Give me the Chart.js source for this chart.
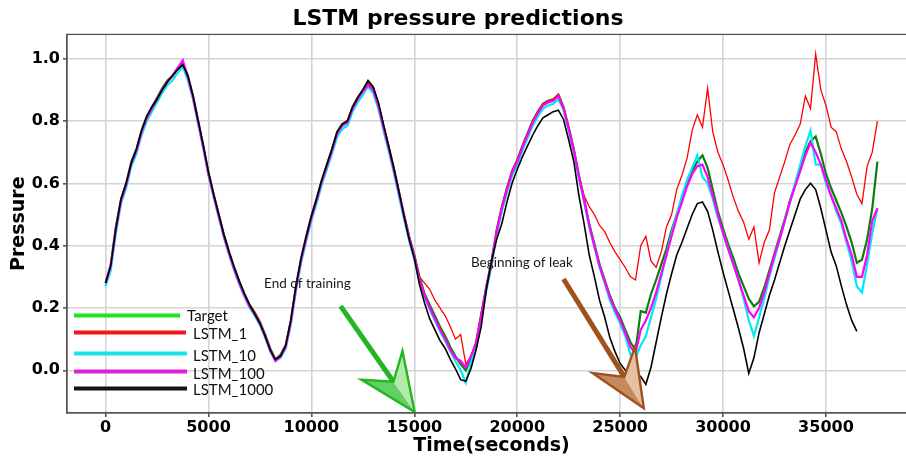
<!DOCTYPE html>
<html>
<head>
<meta charset="utf-8">
<script src="https://cdn.jsdelivr.net/npm/chart.js@4.4.1/dist/chart.umd.min.js"></script>
<style>
  html, body { margin: 0; padding: 0; background: #fff; overflow: hidden; }
  #wrap { width: 983px; height: 459px; }
</style>
</head>
<body>
<div id="wrap"><canvas id="chart" width="983" height="459"></canvas></div>
<script>
// Sample times (seconds)
const time = [
  0, 250, 500, 750, 1000, 1250, 1500, 1750, 2000, 2250,
  2500, 2750, 3000, 3250, 3500, 3750, 4000, 4250, 4500, 4750,
  5000, 5250, 5500, 5750, 6000, 6250, 6500, 6750, 7000, 7250,
  7500, 7750, 8000, 8250, 8500, 8750, 9000, 9250, 9500, 9750,
  10000, 10250, 10500, 10750, 11000, 11250, 11500, 11750, 12000, 12250,
  12500, 12750, 13000, 13250, 13500, 13750, 14000, 14250, 14500, 14750,
  15000, 15250, 15500, 15750, 16000, 16250, 16500, 16750, 17000, 17250,
  17500, 17750, 18000, 18250, 18500, 18750, 19000, 19250, 19500, 19750,
  20000, 20250, 20500, 20750, 21000, 21250, 21500, 21750, 22000, 22250,
  22500, 22750, 23000, 23250, 23500, 23750, 24000, 24250, 24500, 24750,
  25000, 25250, 25500, 25750, 26000, 26250, 26500, 26750, 27000, 27250,
  27500, 27750, 28000, 28250, 28500, 28750, 29000, 29250, 29500, 29750,
  30000, 30250, 30500, 30750, 31000, 31250, 31500, 31750, 32000, 32250,
  32500, 32750, 33000, 33250, 33500, 33750, 34000, 34250, 34500, 34750,
  35000, 35250, 35500, 35750, 36000, 36250, 36500, 36750, 37000, 37250,
  37500
];

// Measured pressure
const target = [
  0.28, 0.34, 0.46, 0.55, 0.60, 0.67, 0.71, 0.77, 0.815, 0.845,
  0.875, 0.905, 0.93, 0.945, 0.97, 0.985, 0.945, 0.88, 0.80, 0.72,
  0.635, 0.565, 0.50, 0.435, 0.38, 0.33, 0.285, 0.245, 0.21, 0.185,
  0.155, 0.115, 0.07, 0.035, 0.05, 0.08, 0.16, 0.27, 0.36, 0.43,
  0.495, 0.55, 0.61, 0.66, 0.71, 0.765, 0.79, 0.80, 0.845, 0.875,
  0.90, 0.925, 0.905, 0.855, 0.785, 0.72, 0.65, 0.575, 0.50, 0.43,
  0.37, 0.30, 0.245, 0.21, 0.175, 0.14, 0.11, 0.075, 0.045, 0.02,
  0.0, 0.04, 0.09, 0.18, 0.27, 0.35, 0.45, 0.525, 0.585, 0.64,
  0.675, 0.72, 0.76, 0.80, 0.83, 0.855, 0.865, 0.87, 0.885, 0.845,
  0.78, 0.71, 0.625, 0.55, 0.47, 0.405, 0.34, 0.29, 0.24, 0.20,
  0.17, 0.13, 0.09, 0.065, 0.19, 0.185, 0.245, 0.29, 0.34, 0.39,
  0.45, 0.50, 0.55, 0.60, 0.64, 0.67, 0.69, 0.65, 0.58, 0.51,
  0.455, 0.405, 0.36, 0.31, 0.27, 0.23, 0.205, 0.22, 0.265, 0.32,
  0.375, 0.43, 0.485, 0.545, 0.595, 0.645, 0.70, 0.735, 0.75, 0.695,
  0.63, 0.585, 0.545, 0.505, 0.46, 0.41, 0.345, 0.355, 0.42, 0.52,
  0.67
];

// Predictions, one network per series
const lstm1 = [
  0.28, 0.34, 0.455, 0.55, 0.60, 0.665, 0.71, 0.765, 0.81, 0.845,
  0.87, 0.90, 0.925, 0.945, 0.965, 0.98, 0.94, 0.88, 0.80, 0.72,
  0.635, 0.565, 0.50, 0.435, 0.38, 0.33, 0.285, 0.245, 0.21, 0.185,
  0.155, 0.115, 0.07, 0.035, 0.05, 0.08, 0.16, 0.27, 0.36, 0.43,
  0.495, 0.55, 0.61, 0.66, 0.71, 0.765, 0.79, 0.80, 0.845, 0.875,
  0.90, 0.92, 0.905, 0.855, 0.785, 0.72, 0.65, 0.575, 0.50, 0.43,
  0.37, 0.30, 0.28, 0.26, 0.225, 0.20, 0.175, 0.14, 0.10, 0.115,
  0.02, 0.045, 0.09, 0.18, 0.27, 0.35, 0.45, 0.525, 0.585, 0.64,
  0.675, 0.72, 0.76, 0.80, 0.83, 0.855, 0.865, 0.87, 0.885, 0.845,
  0.78, 0.71, 0.625, 0.56, 0.525, 0.50, 0.465, 0.445, 0.41, 0.38,
  0.355, 0.33, 0.30, 0.29, 0.40, 0.43, 0.35, 0.33, 0.38, 0.46,
  0.50, 0.58, 0.625, 0.68, 0.77, 0.82, 0.78, 0.905, 0.765, 0.70,
  0.66, 0.61, 0.555, 0.51, 0.475, 0.42, 0.46, 0.345, 0.41, 0.45,
  0.57, 0.62, 0.67, 0.725, 0.755, 0.79, 0.88, 0.84, 1.015, 0.90,
  0.85, 0.78, 0.765, 0.71, 0.67, 0.62, 0.565, 0.535, 0.655, 0.70,
  0.80
];

const lstm10 = [
  0.27, 0.32, 0.44, 0.535, 0.585, 0.655, 0.695, 0.755, 0.80, 0.83,
  0.86, 0.89, 0.915, 0.93, 0.955, 0.975, 0.93, 0.87, 0.79, 0.71,
  0.625, 0.555, 0.49, 0.425, 0.37, 0.32, 0.275, 0.235, 0.20, 0.175,
  0.145, 0.105, 0.06, 0.03, 0.04, 0.07, 0.145, 0.255, 0.345, 0.415,
  0.48, 0.535, 0.595, 0.645, 0.695, 0.75, 0.775, 0.785, 0.83, 0.86,
  0.885, 0.91, 0.89, 0.84, 0.77, 0.705, 0.635, 0.56, 0.485, 0.415,
  0.355, 0.285, 0.235, 0.195, 0.16, 0.125, 0.095, 0.06, 0.03, 0.0,
  -0.04, 0.025, 0.075, 0.165, 0.255, 0.335, 0.435, 0.51, 0.57, 0.625,
  0.66, 0.705, 0.745, 0.785, 0.815, 0.84, 0.85, 0.855, 0.87, 0.835,
  0.77, 0.70, 0.615, 0.54, 0.46, 0.395, 0.33, 0.28, 0.225, 0.185,
  0.15, 0.11, 0.05, 0.04, 0.08, 0.11, 0.17, 0.23, 0.30, 0.37,
  0.44, 0.50, 0.56, 0.61, 0.65, 0.69, 0.62, 0.60, 0.55, 0.49,
  0.44, 0.39, 0.34, 0.29, 0.23, 0.16, 0.11, 0.17, 0.23, 0.30,
  0.36, 0.42, 0.48, 0.54, 0.60, 0.66, 0.72, 0.77, 0.66, 0.66,
  0.60, 0.56, 0.51, 0.47, 0.41, 0.35, 0.27, 0.25, 0.34, 0.44,
  0.52
];

const lstm100 = [
  0.28, 0.335, 0.455, 0.545, 0.595, 0.665, 0.705, 0.765, 0.81, 0.84,
  0.87, 0.90, 0.925, 0.945, 0.97, 0.995, 0.94, 0.875, 0.795, 0.715,
  0.63, 0.56, 0.495, 0.43, 0.375, 0.325, 0.28, 0.24, 0.205, 0.18,
  0.15, 0.11, 0.065, 0.03, 0.045, 0.075, 0.155, 0.265, 0.355, 0.425,
  0.49, 0.545, 0.605, 0.655, 0.705, 0.76, 0.785, 0.795, 0.84, 0.87,
  0.895, 0.915, 0.90, 0.85, 0.78, 0.715, 0.645, 0.57, 0.495, 0.425,
  0.365, 0.29, 0.24, 0.20, 0.165, 0.13, 0.10, 0.065, 0.04, 0.03,
  0.01, 0.045, 0.085, 0.175, 0.265, 0.345, 0.445, 0.52, 0.58, 0.635,
  0.67, 0.715, 0.755, 0.795, 0.825, 0.85, 0.86, 0.865, 0.88, 0.84,
  0.775, 0.705, 0.62, 0.545, 0.465, 0.40, 0.335, 0.285, 0.235, 0.195,
  0.16, 0.12, 0.075, 0.055, 0.13, 0.16, 0.20, 0.25, 0.31, 0.37,
  0.43, 0.49, 0.54, 0.59, 0.63, 0.655, 0.66, 0.62, 0.56, 0.50,
  0.44, 0.39, 0.34, 0.29, 0.24, 0.19, 0.17, 0.20, 0.25, 0.31,
  0.37, 0.42, 0.48, 0.54, 0.59, 0.64, 0.69, 0.73, 0.70, 0.66,
  0.61, 0.56, 0.52, 0.48, 0.42, 0.37, 0.30, 0.30, 0.37, 0.48,
  0.52
];

const lstm1000 = [
  0.28, 0.335, 0.455, 0.55, 0.60, 0.665, 0.71, 0.77, 0.815, 0.845,
  0.87, 0.90, 0.925, 0.945, 0.965, 0.98, 0.945, 0.88, 0.80, 0.72,
  0.635, 0.565, 0.50, 0.435, 0.38, 0.33, 0.285, 0.245, 0.21, 0.18,
  0.15, 0.11, 0.065, 0.035, 0.045, 0.08, 0.16, 0.27, 0.36, 0.43,
  0.495, 0.55, 0.61, 0.66, 0.71, 0.765, 0.79, 0.80, 0.845, 0.875,
  0.90, 0.93, 0.91, 0.86, 0.79, 0.72, 0.65, 0.575, 0.495, 0.42,
  0.36, 0.275, 0.215, 0.165, 0.13, 0.095, 0.07, 0.035, 0.005, -0.03,
  -0.035, 0.005, 0.065, 0.14, 0.26, 0.35, 0.42, 0.47, 0.54, 0.60,
  0.645, 0.685, 0.72, 0.755, 0.785, 0.81, 0.82, 0.83, 0.835, 0.805,
  0.74, 0.67, 0.56, 0.47, 0.37, 0.30, 0.225, 0.17, 0.105, 0.06,
  0.022, 0.0, 0.0, -0.01, -0.02, -0.045, 0.01, 0.09, 0.17, 0.245,
  0.31, 0.37, 0.41, 0.455, 0.50, 0.535, 0.54, 0.51, 0.45, 0.38,
  0.315, 0.255, 0.195, 0.135, 0.07, -0.01, 0.04, 0.12, 0.18, 0.24,
  0.29, 0.345, 0.40, 0.45, 0.50, 0.55, 0.58, 0.60, 0.58, 0.52,
  0.45, 0.38, 0.335, 0.27, 0.21, 0.16, 0.125, null, null, null,
  null
];

const seriesLabels = ['Target', 'LSTM_1', 'LSTM_10', 'LSTM_100', 'LSTM_1000'];
const xTicks = [0, 5000, 10000, 15000, 20000, 25000, 30000, 35000];
const yTicks = [0.0, 0.2, 0.4, 0.6, 0.8, 1.0];

// Notes and arrows, placed in data units (time, pressure)
const noteTexts = ['End of training', 'Beginning of leak'];
const noteTime = [7700, 17750];
const notePressure = [0.277, 0.344];
const arrowFromTime = [11420, 22250];
const arrowFromPressure = [0.206, 0.293];
const arrowToTime = [15015, 26150];
const arrowToPressure = [-0.134, -0.122];

// ---- styling ----
const lineColors = ['#0d7d0d', '#ff0000', '#00eaf2', '#ff00ff', '#000000'];
const lineWidths = [2.2, 1.3, 2.2, 2.2, 1.6];
const drawOrder = [5, 4, 3, 2, 1];
const keyColors = ['#1ee61e', '#f01818', '#18e4ee', '#e01ee0', '#141414'];
const keyLayout = [ // offsets from the plot's top-left corner
  { y: 281, x0: 7, x1: 113, tx: 120, ty: 282 },
  { y: 298, x0: 7, x1: 119, tx: 126, ty: 300 },
  { y: 319, x0: 7, x1: 120, tx: 126, ty: 322 },
  { y: 337, x0: 7, x1: 120, tx: 126, ty: 340 },
  { y: 354, x0: 7, x1: 120, tx: 126, ty: 356 }
];
const arrowStyles = [
  { stroke: '#22b722', light: '#b2eaa9', mid: '#62d062' },
  { stroke: '#a0521e', light: '#e5c0a2', mid: '#c88a5c' }
];

const series = [target, lstm1, lstm10, lstm100, lstm1000];
const datasets = series.map((vals, k) => ({
  label: seriesLabels[k],
  data: time.map((t, i) => ({ x: t, y: vals[i] })).filter(p => p.y !== null),
  borderColor: lineColors[k],
  backgroundColor: lineColors[k],
  borderWidth: lineWidths[k],
  order: drawOrder[k],
  pointRadius: 0,
  tension: 0,
  fill: false
}));

function drawArrow(ctx, x0, y0, x1, y1, st) {
  const dx = x1 - x0, dy = y1 - y0, L = Math.hypot(dx, dy);
  const ux = dx / L, uy = dy / L, nx = -uy, ny = ux;
  const headLen = 57, half = 25, notch = 37;
  const a = [x1 - ux * headLen + nx * half, y1 - uy * headLen + ny * half];
  const b = [x1 - ux * headLen - nx * half, y1 - uy * headLen - ny * half];
  const m = [x1 - ux * notch, y1 - uy * notch];
  ctx.save();
  ctx.lineCap = 'butt';
  ctx.strokeStyle = st.stroke;
  ctx.lineWidth = 5;
  ctx.beginPath(); ctx.moveTo(x0, y0); ctx.lineTo(m[0], m[1]); ctx.stroke();
  ctx.fillStyle = st.mid;
  ctx.beginPath(); ctx.moveTo(a[0], a[1]); ctx.lineTo(m[0], m[1]); ctx.lineTo(x1, y1); ctx.closePath(); ctx.fill();
  ctx.fillStyle = st.light;
  ctx.beginPath(); ctx.moveTo(b[0], b[1]); ctx.lineTo(m[0], m[1]); ctx.lineTo(x1, y1); ctx.closePath(); ctx.fill();
  ctx.lineWidth = 2.4;
  ctx.lineJoin = 'miter';
  ctx.beginPath();
  ctx.moveTo(x1, y1); ctx.lineTo(a[0], a[1]); ctx.lineTo(m[0], m[1]); ctx.lineTo(b[0], b[1]); ctx.closePath();
  ctx.stroke();
  ctx.restore();
}

const overlay = {
  id: 'overlay',
  afterDatasetsDraw(chart) {
    const { ctx, scales: { x, y }, chartArea: ca } = chart;
    ctx.save();
    // notes
    ctx.fillStyle = '#1a1a1a';
    ctx.font = '13.5px Lato';
    ctx.textBaseline = 'middle';
    ctx.textAlign = 'left';
    noteTexts.forEach((txt, i) => {
      ctx.fillText(txt, x.getPixelForValue(noteTime[i]), y.getPixelForValue(notePressure[i]));
    });
    // arrows
    arrowStyles.forEach((st, i) => {
      drawArrow(ctx,
        x.getPixelForValue(arrowFromTime[i]), y.getPixelForValue(arrowFromPressure[i]),
        x.getPixelForValue(arrowToTime[i]), y.getPixelForValue(arrowToPressure[i]), st);
    });
    // key
    ctx.font = '15px Lato';
    ctx.lineCap = 'butt';
    chart.data.datasets.forEach((ds, i) => {
      const k = keyLayout[i];
      ctx.strokeStyle = keyColors[i];
      ctx.lineWidth = 4;
      ctx.beginPath();
      ctx.moveTo(ca.left + k.x0, ca.top + k.y);
      ctx.lineTo(ca.left + k.x1, ca.top + k.y);
      ctx.stroke();
      ctx.fillStyle = '#111';
      ctx.fillText(ds.label, ca.left + k.tx, ca.top + k.ty);
    });
    // frame
    ctx.strokeStyle = '#555';
    ctx.lineWidth = 1.3;
    ctx.strokeRect(ca.left, ca.top, ca.right - ca.left, ca.bottom - ca.top);
    ctx.restore();
  }
};

const tickFont = { family: 'DejaVu Sans', weight: 'bold', size: 16 };
const titleFont = { family: 'DejaVu Sans', weight: 'bold', size: 19 };

new Chart(document.getElementById('chart'), {
  type: 'line',
  data: { datasets },
  options: {
    responsive: false,
    animation: false,
    devicePixelRatio: 1,
    layout: { padding: { left: 0, right: 67, top: 0, bottom: 0 } },
    plugins: {
      legend: { display: false },
      tooltip: { enabled: false },
      title: {
        display: true,
        text: 'LSTM pressure predictions',
        color: '#000',
        font: { family: 'DejaVu Sans', weight: 'bold', size: 22 },
        padding: { top: 6, bottom: 2 }
      }
    },
    scales: {
      x: {
        type: 'linear',
        min: -1875,
        max: 39375,
        afterBuildTicks: s => { s.ticks = xTicks.map(v => ({ value: v })); },
        afterFit: s => { s.height = 46; },
        grid: { color: '#d4d4d4', lineWidth: 1.6, tickLength: 4, tickColor: '#555' },
        border: { display: true, color: '#555', width: 1.3 },
        ticks: { font: tickFont, color: '#000', padding: 1, maxRotation: 0, callback: v => String(v) },
        title: { display: true, text: 'Time(seconds)', color: '#000', font: titleFont, padding: { top: 0, bottom: 2 } }
      },
      y: {
        min: -0.137,
        max: 1.078,
        afterBuildTicks: s => { s.ticks = yTicks.map(v => ({ value: v })); },
        afterFit: s => { s.width = 67; },
        grid: { color: '#d4d4d4', lineWidth: 1.6, tickLength: 4, tickColor: '#555' },
        border: { display: true, color: '#555', width: 1.3 },
        ticks: { font: tickFont, color: '#000', padding: 3, callback: v => Number(v).toFixed(1) },
        title: { display: true, text: 'Pressure', color: '#000', font: titleFont, padding: { top: 8, bottom: 0 } }
      }
    }
  },
  plugins: [overlay]
});
</script>
</body>
</html>
